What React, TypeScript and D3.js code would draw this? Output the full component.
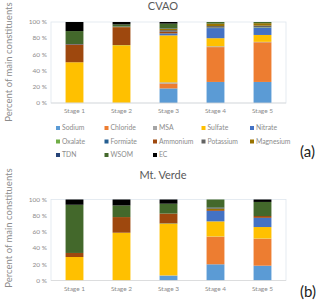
import React from 'react';
import * as d3 from 'd3';

const stages = ['Stage 1', 'Stage 2', 'Stage 3', 'Stage 4', 'Stage 5'];
const constituents = ['Sodium', 'Chloride', 'MSA', 'Sulfate', 'Nitrate', 'Oxalate', 'Formiate', 'Ammonium', 'Potassium', 'Magnesium', 'TDN', 'WSOM', 'EC'];
const colors = ['#5B9BD5', '#ED7D31', '#A5A5A5', '#FFC000', '#4472C4', '#70AD47', '#255E91', '#9E480E', '#636363', '#997300', '#264478', '#43682B', '#000000'];
const yTicks = [0, 20, 40, 60, 80, 100];

// percent per stage, order follows constituents
const cvao = [
  [0, 0, 0.3, 50, 0, 0, 0, 22, 0, 0, 0.5, 16, 11.2],
  [0, 0, 0.3, 71, 0, 0.3, 0, 22, 0, 0.5, 0.4, 2.5, 3],
  [18, 6, 1.5, 58, 2, 0, 0.5, 2, 2, 1.5, 0.5, 6, 2],
  [26, 43, 1, 10, 12.5, 0.5, 0, 0, 2, 3, 0, 2, 0],
  [26, 49, 0.5, 8.5, 9, 0.5, 0, 0, 2, 3, 0, 1.5, 0],
];
const mtVerde = [
  [0, 0, 0, 29, 0, 0, 0, 5, 0, 0, 0, 59.5, 6.5],
  [0, 0, 0, 59, 0, 0, 0, 19.3, 0, 0, 0, 14.3, 7.4],
  [6, 0, 0.3, 63.7, 0, 0.5, 0, 12.1, 0, 0, 0, 12.2, 5.2],
  [20, 34, 0.3, 18.7, 13, 0, 0, 1, 0, 2, 1, 10, 0],
  [18.3, 33.2, 0.3, 14.2, 11.4, 0, 0, 2.2, 0, 0, 0, 17.4, 3],
];

const FONT = 'Lato, "Liberation Sans", sans-serif';

type ChartProps = { title: string; data: number[][]; top: number; titleY: number; labelY: number };

function Chart({ title, data, top, titleY, labelY }: ChartProps) {
  const x = d3.scaleBand().domain(stages).range([51, 286]).paddingInner(0.62).paddingOuter(0.31);
  const y = d3.scaleLinear().domain([0, 100]).range([top + 81, top]);
  const rows = data.map((vals, i) => {
    const r: Record<string, any> = { stage: stages[i] };
    constituents.forEach((c, j) => (r[c] = vals[j]));
    return r;
  });
  const series = d3.stack<any>().keys(constituents)(rows);
  return (
    <g fontFamily={FONT}>
      <text x={163} y={titleY} textAnchor="middle" fontSize={11} fill="#595959">{title}</text>
      <text transform={`translate(11.5,${labelY}) rotate(-90)`} textAnchor="middle" fontSize={9.5} fill="#8c8c8c">
        Percent of main constituents
      </text>
      <rect x={51} y={top} width={235} height={81} fill="none" stroke="#dfe6ee" strokeWidth={0.8} />
      {yTicks.map(t => (
        <text key={t} x={47} y={y(t)} dy="0.35em" textAnchor="end" fontSize={6.5} fill="#8c8c8c">{`${t} %`}</text>
      ))}
      {series.map((s, j) => (
        <g key={s.key} fill={colors[j]}>
          {s.map((d, i) => (
            d[1] - d[0] > 0 ? (
              <rect key={i} x={x(stages[i])} y={y(d[1])} width={x.bandwidth()} height={y(d[0]) - y(d[1])} />
            ) : null
          ))}
        </g>
      ))}
      <line x1={51} x2={286} y1={y(0)} y2={y(0)} stroke="#d9d9d9" strokeWidth={0.8} />
      {stages.map(s => (
        <text key={s} x={x(s)! + x.bandwidth() / 2} y={y(0) + 10} textAnchor="middle" fontSize={6.5} fill="#8c8c8c">{s}</text>
      ))}
    </g>
  );
}

function Legend({ top }: { top: number }) {
  return (
    <g fontFamily={FONT}>
      {constituents.map((c, i) => {
        const col = i % 5;
        const row = Math.floor(i / 5);
        const lx = 56 + col * 48.5;
        const ly = top + row * 13.5;
        return (
          <g key={c}>
            <rect x={lx} y={ly - 2} width={4} height={4} fill={colors[i]} />
            <text x={lx + 6} y={ly} dy="0.35em" fontSize={6.8} fill="#8c8c8c">{c}</text>
          </g>
        );
      })}
    </g>
  );
}

export default function App() {
  return (
    <div style={{ position: 'absolute', left: 0, top: 0 }}>
      <svg width={320} height={300} style={{ display: 'block', background: '#fff' }}>
        <Chart title="CVAO" data={cvao} top={22} titleY={10} labelY={62} />
        <Legend top={128} />
        <text x={300} y={157} fontSize={15} fontFamily={FONT} fill="#222">(a)</text>
        <Chart title="Mt. Verde" data={mtVerde} top={199.5} titleY={179} labelY={228} />
        <text x={300} y={297} fontSize={15} fontFamily={FONT} fill="#222">(b)</text>
      </svg>
    </div>
  );
}
